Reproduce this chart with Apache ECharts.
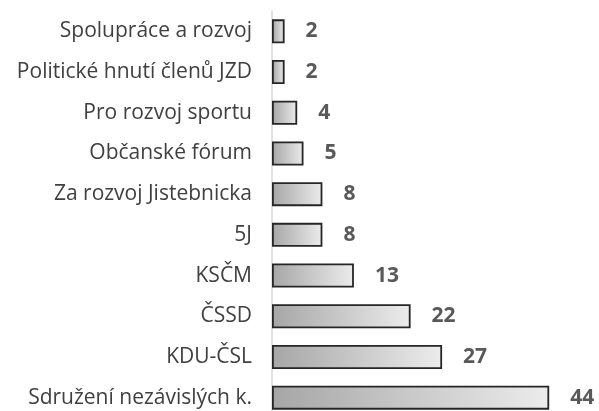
<!DOCTYPE html>
<html><head><meta charset="utf-8">
<script src="https://cdn.jsdelivr.net/npm/echarts@6/dist/echarts.min.js"></script>
<style>html,body{margin:0;padding:0;background:#fff;overflow:hidden}#c{width:599px;height:430px}</style>
</head><body><div id="c"></div>
<script>
const categories = ["Spolupráce a rozvoj","Politické hnutí členů JZD","Pro rozvoj sportu","Občanské fórum","Za rozvoj Jistebnicka","5J","KSČM","ČSSD","KDU-ČSL","Sdružení nezávislých k."];
const values = [2,2,4,5,8,8,13,22,27,44];
const chart = echarts.init(document.getElementById('c'));
chart.setOption({
  animation:false,
  grid:{left:272, top:11, width:315, height:407, containLabel:false},
  xAxis:{type:'value', min:0, max:50, show:false},
  yAxis:{type:'category', data:categories, inverse:true,
    axisLine:{lineStyle:{color:'#d9d9d9', width:1.5}},
    axisTick:{show:false},
    axisLabel:{color:'#404040', fontFamily:'Open Sans', fontSize:21, margin:20}},
  series:[{type:'bar', data:values, barWidth:24,
    itemStyle:{borderColor:'#262626', borderWidth:1.8,
      color:new echarts.graphic.LinearGradient(0,0,1,0,[{offset:0,color:'#a6a6a6'},{offset:1,color:'#ececec'}])},
    label:{show:true, position:'right', distance:21, color:'#595959', fontWeight:'bold', fontFamily:'Open Sans', fontSize:21}}]
});
</script></body></html>
